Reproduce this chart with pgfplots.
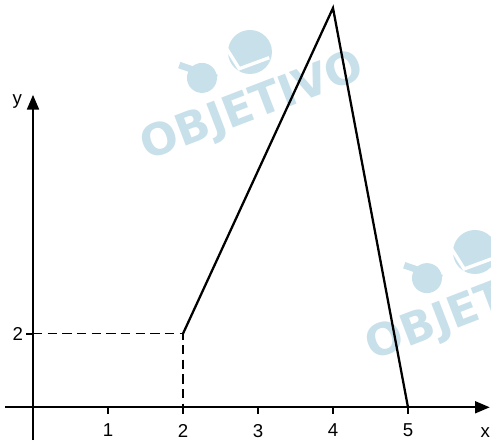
\documentclass[border=0pt]{standalone}
\usepackage{fontspec}
\setmainfont{Liberation Sans}
\newfontfamily\wmfont{DejaVu Sans}
\usepackage{pgfplots}
\pgfplotsset{compat=1.18}
\usetikzlibrary{arrows.meta}
\definecolor{wm}{RGB}{200,224,234}

\begin{document}
\begin{tikzpicture}
\begin{axis}[
	x=56.25pt, y=27.6pt,
	axis lines=middle,
	enlargelimits=false,
	xmin=-0.37, xmax=6.09,
	ymin=-0.89, ymax=8.49,
	clip=false,
	axis line style={line width=1.3pt, -{Triangle[length=11pt,width=9pt]}},
	xtick={1,2,3,4,5},
	ytick={2},
	tick align=outside,
	major tick length=5pt,
	tick style={black, line width=1.3pt},
	ticklabel style={font=\fontsize{14}{16}\selectfont},
	xticklabel style={yshift=-4pt},
	yticklabel style={xshift=1pt},
	/pgf/number format/assume math mode=true,
]
% marca d'agua
\fill[wm] (axis cs:2.893,9.655) circle[radius=16.5pt];
\fill[wm] (axis cs:2.253,8.95) circle[radius=11.25pt];
\draw[wm, line width=5pt] (axis cs:1.95,9.3) -- (axis cs:2.45,8.95);
\draw[white, line width=2.5pt] (axis cs:2.55,9.85) -- (axis cs:2.75,9.2) -- (axis cs:3.15,9.5);
\node[wm, rotate=21, font=\wmfont\bfseries\fontsize{33}{33}\selectfont] at (axis cs:2.933,8.14) {OBJETIVO};
\fill[wm] (axis cs:5.893,4.22) circle[radius=16.5pt];
\fill[wm] (axis cs:5.253,3.51) circle[radius=11.25pt];
\draw[wm, line width=5pt] (axis cs:4.95,3.86) -- (axis cs:5.45,3.51);
\draw[white, line width=2.5pt] (axis cs:5.55,4.41) -- (axis cs:5.75,3.76) -- (axis cs:6.15,4.06);
\node[wm, rotate=21, font=\wmfont\bfseries\fontsize{33}{33}\selectfont] at (axis cs:5.933,2.705) {OBJETIVO};

\addplot[black, line width=1.1pt, dash pattern=on 7pt off 4pt] coordinates {(0,2) (2,2) (2,0)};
\addplot[black, line width=1.7pt] coordinates {(2,2) (4,10.85) (5,0)};

\node[font=\fontsize{14}{16}\selectfont] at (axis cs:6.03,-0.68) {x};
\node[font=\fontsize{14}{16}\selectfont] at (axis cs:-0.21,8.3) {y};

\coordinate (bl) at (axis cs:-0.44,-0.943);
\coordinate (tr) at (axis cs:6.107,11.068);
\end{axis}
\pgfresetboundingbox
\path[use as bounding box] (bl) rectangle (tr);
\end{tikzpicture}
\end{document}
